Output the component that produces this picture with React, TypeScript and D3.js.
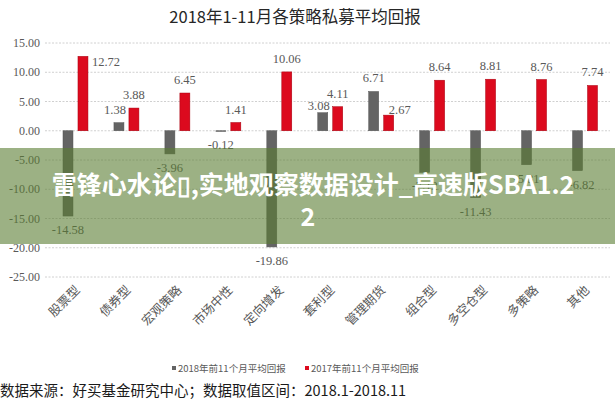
import React from "react";
import * as d3 from "d3";

const title = "2018年1-11月各策略私募平均回报";
const categories = ["股票型", "债券型", "宏观策略", "市场中性", "定向增发", "套利型", "管理期货", "组合型", "多空仓型", "多策略", "其他"];
const returns2018 = [-14.58, 1.38, -3.96, -0.12, -19.86, 3.08, 6.71, -7.12, -11.43, -5.81, -6.82];
const returns2017 = [12.72, 3.88, 6.45, 1.41, 10.06, 4.11, 2.67, 8.64, 8.81, 8.76, 7.74];
const yTicks = [15, 10, 5, 0, -5, -10, -15, -20, -25];
const seriesNames = ["2018年前11个月平均回报", "2017年前11个月平均回报"];
const footer = "数据来源：好买基金研究中心；数据取值区间：2018.1-2018.11";
const bannerLine1 = "雷锋心水论▯,实地观察数据设计_高速版SBA1.2";
const bannerLine2 = "2";

// label nudges (style only) keyed by series index + category
const nudges: Record<string, [number, number]> = {
  "1-股票型": [23, 19],
  "0-债券型": [-4, 0],
  "0-套利型": [-4, 6],
  "1-管理期货": [11, 8],
  "0-其他": [4, 0],
};

const W = 615;
const H = 400;
const colors = ["#646464", "#dc0a1e"];
const textColor = "#595959";

export default function App() {
  const x = d3.scaleBand<string>().domain(categories).range([50, 610.5]);
  const bw = x.bandwidth();
  const xs = d3.scaleBand<string>().domain(["0", "1"]).range([bw * 0.255, bw * 0.745]).paddingInner(1 / 3);
  const y = d3.scaleLinear().domain([-25, 15]).range([277, 43]);
  const f2 = d3.format(".2f");
  const fmt = (v: number) => f2(v).replace("\u2212", "-");
  const series = [returns2018, returns2017];

  return (
    <svg width={W} height={H} style={{ position: "absolute", left: 0, top: 0, background: "#fff" }}>
      <rect x={0} y={0} width={W} height={H} fill="#fff" />
      <text x={295} y={23} textAnchor="middle" fontFamily="'Noto Sans CJK SC', sans-serif" fontSize={16.5} fill="#262626">
        {title}
      </text>
      {yTicks.map((t) => (
        <g key={t}>
          <line x1={45} x2={610} y1={y(t)} y2={y(t)} stroke="#d0d0d0" strokeWidth={1} strokeDasharray="2,1.5" />
          <text x={40} y={y(t) + 4} textAnchor="end" fontFamily="'Liberation Serif', serif" fontSize={12} fill={textColor}>
            {fmt(t)}
          </text>
        </g>
      ))}
      {series.map((vals, si) =>
        vals.map((v, i) => {
          const c = categories[i];
          const bx = (x(c) as number) + (xs(String(si)) as number);
          const w = xs.bandwidth();
          const y0 = y(0);
          const yv = y(v);
          return (
            <rect key={si + "-" + c} x={bx} width={w} y={Math.min(y0, yv)} height={Math.abs(yv - y0)} fill={colors[si]} stroke={si === 1 ? "#a8000f" : "#555"} strokeWidth={0.5} />
          );
        })
      )}
      {series.map((vals, si) =>
        vals.map((v, i) => {
          const c = categories[i];
          const cx = (x(c) as number) + (xs(String(si)) as number) + xs.bandwidth() / 2;
          const n = nudges[si + "-" + c] || [0, 0];
          const ty = v >= 0 ? y(v) - 9 : y(v) + 18;
          return (
            <text key={"l" + si + "-" + c} x={cx + n[0]} y={ty + n[1]} textAnchor="middle" fontFamily="'Liberation Serif', serif" fontSize={12.5} fill={textColor}>
              {fmt(v)}
            </text>
          );
        })
      )}
      {categories.map((c) => {
        const cx = (x(c) as number) + bw / 2;
        return (
          <text key={"c" + c} transform={`translate(${cx + 5},${291}) rotate(-45)`} textAnchor="end" fontFamily="'Noto Sans CJK SC', serif" fontSize={12.5} fill={textColor}>
            {c}
          </text>
        );
      })}
      {seriesNames.map((s, i) => {
        const lx = i === 0 ? 172 : 305;
        return (
          <g key={s}>
            <rect x={lx} y={366} width={4} height={4} fill={colors[i]} />
            <text x={lx + 6} y={372} fontFamily="'Noto Sans CJK SC', sans-serif" fontSize={9.5} fill={textColor}>
              {s}
            </text>
          </g>
        );
      })}
      <text x={0} y={396} fontFamily="'Noto Sans CJK SC', sans-serif" fontSize={14.5} fill="#1a1a1a">
        {footer}
      </text>
      <rect x={0} y={148} width={W} height={96} fill="rgb(90,125,50)" fillOpacity={0.6} />
      <text x={313} y={194} textAnchor="middle" fontFamily="'Noto Sans CJK SC', sans-serif" fontWeight="bold" fontSize={25} fill="#fff">
        {bannerLine1}
      </text>
      <text x={308} y={226} textAnchor="middle" fontFamily="'Noto Sans CJK SC', sans-serif" fontWeight="bold" fontSize={25} fill="#fff">
        {bannerLine2}
      </text>
    </svg>
  );
}
